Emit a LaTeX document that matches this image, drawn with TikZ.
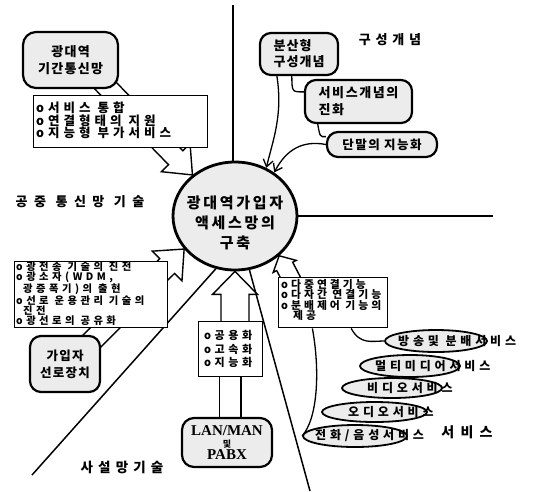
\documentclass[tikz,border=0pt]{standalone}
\usepackage{fontspec}
\setmainfont{Noto Sans CJK KR}
\newfontfamily\serifb{Liberation Serif}
\usetikzlibrary{shapes.geometric,arrows.meta,calc}
\pgfdeclarelayer{bg}
\pgfsetlayers{bg,main}
\newcommand\kfs[3]{\rmfamily\fontsize{#1}{#2}\selectfont\bfseries\addfontfeature{LetterSpace=#3}}
% hollow arrow: start, end, shaft half width, head half width, head length
\newcommand\hollowarrow[5]{%
  \draw[harrow] ($(#1)!#3!90:(#2)$) -- ($(#2)!#5!(#1)!#3!-90:(#1)$) -- ($(#2)!#5!(#1)!#4!-90:(#1)$)
   -- (#2) -- ($(#2)!#5!(#1)!#4!90:(#1)$) -- ($(#2)!#5!(#1)!#3!90:(#1)$) -- ($(#1)!#3!-90:(#2)$) -- cycle;}
\tikzset{
  rbox/.style={draw, line width=2.2pt, rounded corners=11pt, fill=gray!15, inner sep=0pt, align=center},
  lbox/.style={draw, line width=1.4pt, fill=white, inner sep=0pt, anchor=north west},
  ltext/.style={anchor=west, inner sep=0pt, align=left},
  svc/.style={ellipse, draw, line width=1.8pt, fill=gray!15, inner sep=0pt},
  svctext/.style={anchor=west, inner sep=0pt, font={\kfs{12}{14}{32}}},
  qline/.style={line width=1.5pt},
  harrow/.style={draw, fill=white, line width=1.4pt, line join=miter},
  conn/.style={line width=1.3pt},
  barbtip/.style={-{Straight Barb[length=7pt,width=10pt]}},
}
\begin{document}
\begin{tikzpicture}[x=1pt,y=-1pt]
\useasboundingbox (0,0) rectangle (537,491);

% ---------- nodes ----------
\node[rbox, minimum width=95pt, minimum height=56pt, rounded corners=13pt, font={\kfs{13}{17}{10}}] (b1) at (70.5,60) {광대역\\기간통신망};
\node[lbox, minimum width=174pt, minimum height=52pt] (l1) at (33,95) {};
\node[ltext, font={\kfs{12.5}{12.5}{32}}] (l1t) at ([xshift=3pt,yshift=1pt]l1.west) {o서비스 통합\\o연결형태의 지원\\o지능형 부가서비스};

\node[rbox, minimum width=78pt, minimum height=42pt, align=left, font={\kfs{13}{16}{8}}] (d1) at (299,54) {분산형\\구성개념};
\node[rbox, minimum width=107pt, minimum height=43pt, align=left, font={\kfs{13}{17}{12}}] (d2) at (358.5,101.5) {서비스개념의\\진화};
\node[rbox, minimum width=110pt, minimum height=25pt, font={\kfs{12.5}{14}{12}}] (d3) at (382,144.5) {단말의 지능화};

\node[font={\kfs{13}{14}{37}}] (lb1) at (390,40) {구성개념};
\node[font={\kfs{13}{14}{50}}] (lb2) at (80,202) {공중 통신망 기술};
\node[font={\kfs{13.5}{14}{38}}] (lb3) at (122,467) {사설망기술};
\node[font={\kfs{14}{14}{45}}] (lb4) at (467,432) {서비스};

\node[ellipse, draw, line width=2.8pt, fill=gray!15, minimum width=124pt, minimum height=108pt, inner sep=0pt] (c) at (235,216) {};
\node[align=center, font={\kfs{15}{20}{18}}] (ct) at (235,223) {광대역가입자\\액세스망의\\구축};

\node[lbox, minimum width=153pt, minimum height=66pt] (l2) at (14,261) {};
\node[ltext, font={\kfs{10.3}{9.8}{34}}] (l2t) at ([xshift=2pt,yshift=1pt]l2.west) {o광전송 기술의 진전\\o광소자(WDM,\\\hspace*{7pt}광증폭기)의 출현\\o선로 운용관리 기술의\\\hspace*{7pt}진전\\o광선로의 공유화};

\node[rbox, minimum width=70pt, minimum height=56pt, font={\kfs{12.5}{17}{10}}] (g) at (65,364) {가입자\\선로장치};

\node[lbox, minimum width=64pt, minimum height=55pt] (l4) at (198,321) {};
\node[ltext, font={\kfs{11}{13.5}{32}}] (l4t) at ([xshift=6pt]l4.west) {o공용화\\o고속화\\o지능화};

\node[rbox, minimum width=90pt, minimum height=49pt, rounded corners=12pt, font={\fontsize{15}{13}\selectfont\serifb\bfseries}] (lan) at (227,442.5) {LAN/MAN\\[-1pt]{\kfs{9}{9}{0}및}\\[-1pt]PABX};

\node[lbox, minimum width=109pt, minimum height=50pt] (l3) at (278,277) {};
\node[ltext, font={\kfs{10.8}{10.5}{28}}] (l3t) at ([xshift=3pt,yshift=3pt]l3.west) {o다중연결기능\\o다자간 연결기능\\o분배제어 기능의\\\hspace*{12pt}제공};

\node[svc, minimum width=102pt, minimum height=22pt] (e1) at (436,341) {};
\node[svctext] (s1) at (398,341) {방송및 분배서비스};
\node[svc, minimum width=100pt, minimum height=22pt] (e2) at (410,366) {};
\node[svctext] (s2) at (375,366) {멀티미디어서비스};
\node[svc, minimum width=100pt, minimum height=20pt] (e3) at (392,388) {};
\node[svctext] (s3) at (367,388) {비디오서비스};
\node[svc, minimum width=105pt, minimum height=20pt] (e4) at (374.5,412) {};
\node[svctext] (s4) at (348,412) {오디오서비스};
\node[svc, minimum width=104pt, minimum height=22pt] (e5) at (355,436) {};
\node[svctext] (s5) at (315,436) {전화/음성서비스};

% ---------- background: dividers, hollow arrows, lines ----------
\coordinate (qt) at (233,5);
\coordinate (qr) at (493,216);
\coordinate (qbl) at (32,475);
\coordinate (qbr) at (310,491);
\coordinate (ha1) at (100,80);
\coordinate (ha2) at (88,345);
\coordinate (ha3) at (235,330);
\coordinate (ha4) at (297,290);
\begin{pgfonlayer}{bg}
  \draw[qline] (qt) -- (qt |- c.north);
  \draw[qline] (c.east) -- (qr);
  \draw[qline] (c.-110) -- (qbl);
  \draw[qline] (c.-75) -- (qbr);
  \hollowarrow{ha1}{c.136}{10pt}{20pt}{24pt}
  \hollowarrow{ha2}{c.213}{10.5pt}{21pt}{24pt}
  \hollowarrow{ha3}{c.south}{14pt}{22.5pt}{23pt}
  \hollowarrow{ha4}{c.-42}{9pt}{13pt}{12pt}
  \draw[conn] (l4.-112) -- (l4.-112 |- lan.north);
  \draw[conn] (l4.-70) -- (l4.-70 |- lan.north);
  \draw[conn] (l3.-55) .. controls (360,345) and (372,341) .. (e1.west);
  \draw[conn] (l3.-129) .. controls (320,370) and (318,418) .. (e5.west);
  \draw[conn] (d1.252) .. controls (292,92) .. (d2.170);
  \draw[conn] (d2.209) .. controls (320,137) .. (d3.172);
\end{pgfonlayer}

\draw[conn, barbtip] (d1.225) .. controls (283,115) and (273,140) .. (c.57);
\draw[conn, barbtip] (d3.west) .. controls (302,140) and (286,150) .. (c.48);
\end{tikzpicture}
\end{document}
